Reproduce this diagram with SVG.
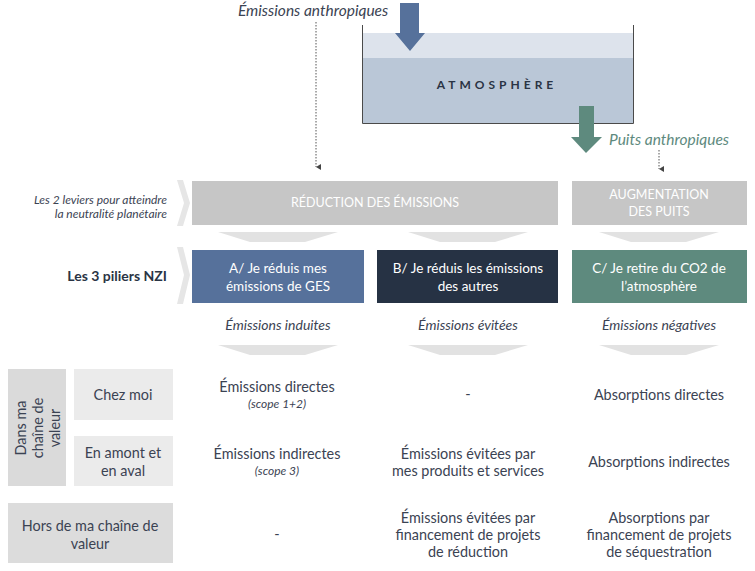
<svg xmlns="http://www.w3.org/2000/svg" width="755" height="571" viewBox="0 0 755 571">
<style>
text{font-family:Lato,"Liberation Sans",sans-serif;}
.it{font-style:italic;}
.body{font-size:14.4px;fill:#3b4353;text-anchor:middle;}
.lbl{font-size:14px;fill:#3b4353;text-anchor:middle;font-style:italic;}
.sc{font-size:12px;fill:#3b4353;text-anchor:middle;font-style:italic;}
.w{fill:#ffffff;text-anchor:middle;font-size:13.5px;}
.hdr{fill:#ffffff;text-anchor:middle;font-size:12.5px;}
.grey{fill:#c6c6c6;}
.tri{fill:#e2e2e2;}
.chev{fill:#e6e6e6;}
.dot{stroke:#555;stroke-width:1;stroke-dasharray:1.5 1.5;fill:none;}
</style>
<defs>
<marker id="ah" markerWidth="6" markerHeight="6" refX="3" refY="5" orient="auto" markerUnits="userSpaceOnUse">
<path d="M0,0 L6,0 L3,5 Z" fill="#444"/>
</marker>
</defs>

<g id="atmosphere">
<rect x="362" y="33" width="272" height="25" fill="#dde3ec"/>
<rect x="362" y="58" width="272" height="65" fill="#bac7d7"/>
<path d="M362.5,25 V123.5 H633.5 V25" fill="none" stroke="#4a4a4a" stroke-width="1"/>
<text x="497" y="89" text-anchor="middle" font-size="12" font-weight="bold" letter-spacing="4" fill="#2a3444">ATMOSPHÈRE</text>
</g>

<g id="emissions-arrow">
<polygon points="400,3 419,3 419,33 425,33 410,51 395,33 400,33" fill="#56719b"/>
<text x="238" y="16" class="it" font-size="15.5" fill="#3b4353">Émissions anthropiques</text>
</g>

<g id="puits-arrow">
<polygon points="579,106 594,106 594,137 602,137 586,153 571,137 579,137" fill="#5e8a7e"/>
<text x="609" y="145" class="it" font-size="15.5" fill="#5e8a7e">Puits anthropiques</text>
</g>

<g id="connectors">
<line x1="316" y1="22" x2="316" y2="167" class="dot" marker-end="url(#ah)"/>
<line x1="659" y1="150" x2="659" y2="169" class="dot" marker-end="url(#ah)"/>
<polygon class="chev" points="177,180 183,180 190,203 183,226 177,226 184,203"/>
<polygon class="chev" points="177,247 183,247 190,275 183,304 177,304 184,275"/>
<polygon class="tri" points="218,232 338,232 305,242 250,242"/>
<polygon class="tri" points="408,232 528,232 495,242 440,242"/>
<polygon class="tri" points="599,232 719,232 686,242 631,242"/>
<polygon class="tri" points="218,345 338,345 305,355 250,355"/>
<polygon class="tri" points="408,345 528,345 495,355 440,355"/>
<polygon class="tri" points="599,345 719,345 686,355 631,355"/>
</g>

<g id="leviers-label">
<text x="167" y="204" class="it" font-size="12" fill="#3b4353" text-anchor="end">Les 2 leviers pour atteindre</text>
<text x="167" y="218" class="it" font-size="12" fill="#3b4353" text-anchor="end">la neutralité planétaire</text>
</g>

<g id="reduction">
<rect x="192" y="181" width="366" height="44" class="grey"/>
<text x="375" y="207" class="hdr">RÉDUCTION DES ÉMISSIONS</text>
</g>

<g id="augmentation">
<rect x="572" y="181" width="175" height="44" class="grey"/>
<text x="659" y="199" class="hdr">AUGMENTATION</text>
<text x="659" y="216" class="hdr">DES PUITS</text>
</g>

<g id="piliers-label">
<text x="167" y="281" font-size="14" font-weight="bold" fill="#2a3444" text-anchor="end">Les 3 piliers NZI</text>
</g>

<g id="pilier-a">
<rect x="192" y="250" width="172" height="53" fill="#56719b"/>
<text x="278" y="273" class="w">A/ Je réduis mes</text>
<text x="278" y="291" class="w">émissions de GES</text>
</g>
<g id="pilier-b">
<rect x="377" y="250" width="181" height="53" fill="#263244"/>
<text x="468" y="273" class="w">B/ Je réduis les émissions</text>
<text x="468" y="291" class="w">des autres</text>
</g>
<g id="pilier-c">
<rect x="572" y="250" width="175" height="53" fill="#5e8a7e"/>
<text x="659" y="273" class="w">C/ Je retire du CO2 de</text>
<text x="659" y="291" class="w">l’atmosphère</text>
</g>

<g id="labels">
<text x="278" y="330" class="lbl">Émissions induites</text>
<text x="468" y="330" class="lbl">Émissions évitées</text>
<text x="659" y="330" class="lbl">Émissions négatives</text>
</g>

<g id="dans-chaine">
<rect x="8" y="369" width="58" height="117" fill="#dadada"/>
<g transform="translate(37,428) rotate(-90)">
<text x="0" y="-11" class="body">Dans ma</text>
<text x="0" y="6" class="body">chaîne de</text>
<text x="0" y="23" class="body">valeur</text>
</g>
</g>
<g id="chez-moi">
<rect x="74" y="369" width="99" height="51" fill="#ebebeb"/>
<text x="123" y="400" class="body">Chez moi</text>
</g>
<g id="amont-aval">
<rect x="74" y="436" width="99" height="50" fill="#ebebeb"/>
<text x="123" y="458" class="body">En amont et</text>
<text x="123" y="476" class="body">en aval</text>
</g>
<g id="hors-chaine">
<rect x="8" y="503" width="165" height="60" fill="#dcdcdc"/>
<text x="90" y="531" class="body">Hors de ma chaîne de</text>
<text x="90" y="549" class="body">valeur</text>
</g>

<g id="cells">
<text x="277" y="392" class="body">Émissions directes</text>
<text x="277" y="408" class="sc">(scope 1+2)</text>
<text x="277" y="459" class="body">Émissions indirectes</text>
<text x="277" y="475" class="sc">(scope 3)</text>
<text x="277" y="539" class="body">-</text>
<text x="468" y="399" class="body">-</text>
<text x="468" y="459" class="body">Émissions évitées par</text>
<text x="468" y="476" class="body">mes produits et services</text>
<text x="468" y="523" class="body">Émissions évitées par</text>
<text x="468" y="540" class="body">financement de projets</text>
<text x="468" y="557" class="body">de réduction</text>
<text x="659" y="400" class="body">Absorptions directes</text>
<text x="659" y="467" class="body">Absorptions indirectes</text>
<text x="659" y="523" class="body">Absorptions par</text>
<text x="659" y="540" class="body">financement de projets</text>
<text x="659" y="557" class="body">de séquestration</text>
</g>
</svg>
